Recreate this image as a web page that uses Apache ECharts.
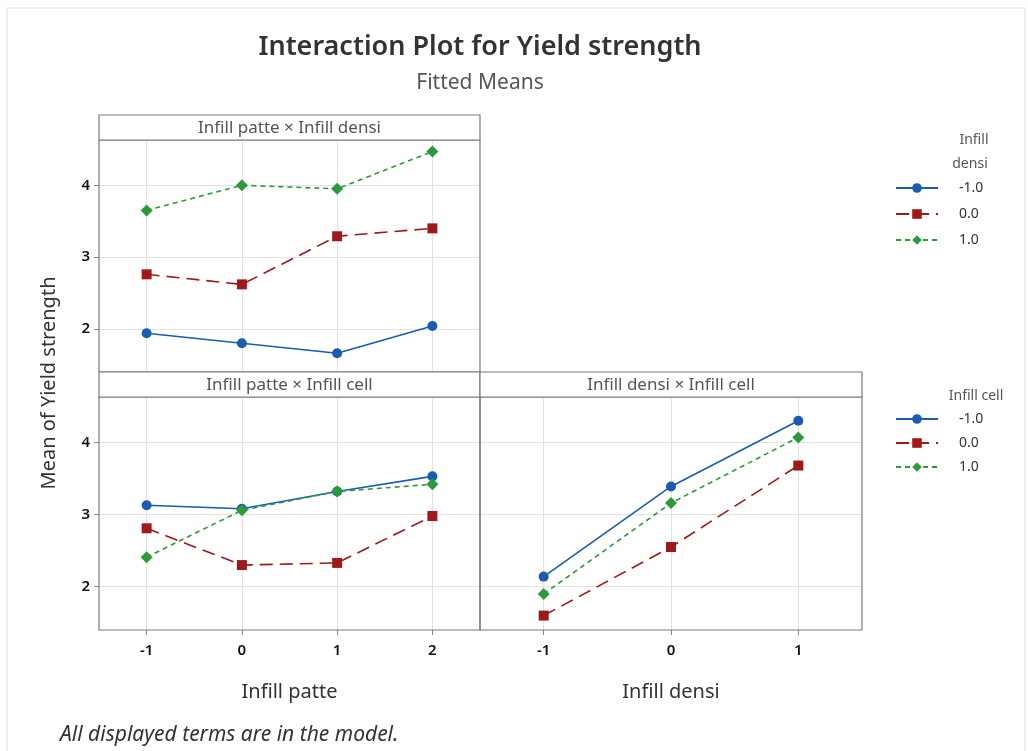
<!DOCTYPE html>
<html><head><meta charset="utf-8">
<script src="https://cdn.jsdelivr.net/npm/echarts@6/dist/echarts.min.js"></script>
<style>html,body{margin:0;padding:0;background:#fff}#c{width:1028px;height:751px}</style>
</head><body><div id="c"></div>
<script>
const patteLevels = [-1, 0, 1, 2];
const densiLevels = [-1, 0, 1];
const levelNames = ['-1.0', '0.0', '1.0'];
const yTicks = [2, 3, 4];
// Infill patte x Infill densi
const pd_m1 = [1.94, 1.80, 1.66, 2.04];
const pd_0  = [2.76, 2.62, 3.29, 3.40];
const pd_p1 = [3.65, 4.00, 3.95, 4.47];
// Infill patte x Infill cell
const pc_m1 = [3.13, 3.08, 3.32, 3.53];
const pc_0  = [2.81, 2.30, 2.33, 2.98];
const pc_p1 = [2.41, 3.06, 3.32, 3.42];
// Infill densi x Infill cell
const dc_m1 = [2.14, 3.39, 4.30];
const dc_0  = [1.60, 2.55, 3.68];
const dc_p1 = [1.90, 3.16, 4.07];

const FONT = 'Noto Sans';
const styles = [
  {color: '#1a5cb0', symbol: 'circle', size: 10, type: 'solid'},
  {color: '#9e1a1a', symbol: 'rect', size: 10, type: [13, 7]},
  {color: '#2b9a3a', symbol: 'diamond', size: 12, type: [5, 4]}
];
function mk(xs, ys, idx, gi) {
  const s = styles[idx];
  return {
    type: 'line', name: levelNames[idx], xAxisIndex: gi, yAxisIndex: gi,
    data: xs.map((x, i) => [x, ys[i]]),
    symbol: s.symbol, symbolSize: s.size,
    itemStyle: {color: s.color},
    lineStyle: {color: s.color, width: 1.6, type: s.type},
    animation: false
  };
}
const grids = [
  {left: 99, top: 140, width: 381, height: 232},
  {left: 99, top: 397, width: 381, height: 233},
  {left: 480, top: 397, width: 382, height: 233}
];
function xAx(gi, levels, lo, hi, showLabels, name) {
  return {
    type: 'value', gridIndex: gi, min: lo, max: hi,
    axisLine: {show: false, onZero: false},
    axisTick: {show: showLabels, customValues: levels, length: 5, lineStyle: {color: '#888'}},
    axisLabel: {show: showLabels, customValues: levels, color: '#111', fontSize: 15, fontWeight: 600, fontFamily: FONT, margin: 13,
      formatter: v => String(v)},
    splitLine: {show: true, lineStyle: {color: '#e2e2e2', width: 1}},
    name: name, nameLocation: 'middle', nameGap: 52,
    nameTextStyle: {color: '#333', fontSize: 20, fontFamily: FONT}
  };
}
function yAx(gi, showLabels) {
  return {
    type: 'value', gridIndex: gi, min: 1.40, max: 4.63,
    axisLine: {show: false, onZero: false},
    axisTick: {show: showLabels, customValues: yTicks, length: 5, lineStyle: {color: '#888'}},
    axisLabel: {show: showLabels, customValues: yTicks, color: '#111', fontSize: 15, fontWeight: 600, fontFamily: FONT, margin: 9},
    splitLine: {show: true, lineStyle: {color: '#e2e2e2', width: 1}}
  };
}
const series = [
  mk(patteLevels, pd_m1, 0, 0), mk(patteLevels, pd_0, 1, 0), mk(patteLevels, pd_p1, 2, 0),
  mk(patteLevels, pc_m1, 0, 1), mk(patteLevels, pc_0, 1, 1), mk(patteLevels, pc_p1, 2, 1),
  mk(densiLevels, dc_m1, 0, 2), mk(densiLevels, dc_0, 1, 2), mk(densiLevels, dc_p1, 2, 2)
];
function strip(x, y, w, text) {
  return [
    {type: 'rect', shape: {x: x, y: y, width: w, height: 25}, style: {fill: '#fff', stroke: '#7a7a7a', lineWidth: 1.2}, z: 10},
    {type: 'text', x: x + w / 2, y: y + 13, style: {text: text, fill: '#555', font: '17px "' + FONT + '"', align: 'center', verticalAlign: 'middle'}, z: 11}
  ];
}
function frame(g) {
  return {type: 'rect', shape: {x: g.left, y: g.top, width: g.width, height: g.height}, style: {fill: 'none', stroke: '#7a7a7a', lineWidth: 1.2}, z: 10};
}
function legendAt(top, gap) {
  return {
    left: 890, top: top,
    orient: 'vertical', itemWidth: 42, itemHeight: 12, itemGap: gap,
    textStyle: {color: '#333', fontSize: 14, fontFamily: FONT, padding: [0, 0, 0, 16]},
    data: levelNames, selectedMode: false
  };
}
const chart = echarts.init(document.getElementById('c'), null, {renderer: 'canvas'});
chart.setOption({
  animation: false,
  title: [
    {text: 'Interaction Plot for Yield strength', left: 475, top: 29, textAlign: 'center',
      textStyle: {color: '#333', fontSize: 27, fontWeight: 600, fontFamily: FONT}},
    {text: 'Fitted Means', left: 475, top: 68, textAlign: 'center',
      textStyle: {color: '#555', fontSize: 21, fontWeight: 'normal', fontFamily: FONT}}
  ],
  grid: grids,
  xAxis: [
    xAx(0, patteLevels, -1.5, 2.5, false, ''),
    xAx(1, patteLevels, -1.5, 2.5, true, 'Infill patte'),
    xAx(2, densiLevels, -1.5, 1.5, true, 'Infill densi')
  ],
  yAxis: [yAx(0, true), yAx(1, true), yAx(2, false)],
  legend: [legendAt(176, 12), legendAt(407, 10)],
  series: series,
  graphic: [
    {type: 'rect', shape: {x: 7, y: 8, width: 1018, height: 760}, style: {fill: 'none', stroke: '#dcdcdc', lineWidth: 1}},
    frame(grids[0]), frame(grids[1]), frame(grids[2]),
    ...strip(99, 115, 381, 'Infill patte \u00d7 Infill densi'),
    ...strip(99, 372, 381, 'Infill patte \u00d7 Infill cell'),
    ...strip(480, 372, 382, 'Infill densi \u00d7 Infill cell'),
    {type: 'text', x: 49, y: 383, rotation: Math.PI / 2,
      style: {text: 'Mean of Yield strength', fill: '#333', font: '20px "' + FONT + '"', align: 'center', verticalAlign: 'middle'}},
    {type: 'text', x: 974, y: 140, style: {text: 'Infill', fill: '#555', font: '14px "' + FONT + '"', align: 'center', verticalAlign: 'middle'}},
    {type: 'text', x: 970, y: 164, style: {text: 'densi', fill: '#555', font: '14px "' + FONT + '"', align: 'center', verticalAlign: 'middle'}},
    {type: 'text', x: 976, y: 396, style: {text: 'Infill cell', fill: '#555', font: '14px "' + FONT + '"', align: 'center', verticalAlign: 'middle'}},
    {type: 'text', x: 60, y: 735, style: {text: 'All displayed terms are in the model.', fill: '#333', font: 'italic 21px "' + FONT + '"', align: 'left', verticalAlign: 'middle'}}
  ]
});
</script></body></html>
